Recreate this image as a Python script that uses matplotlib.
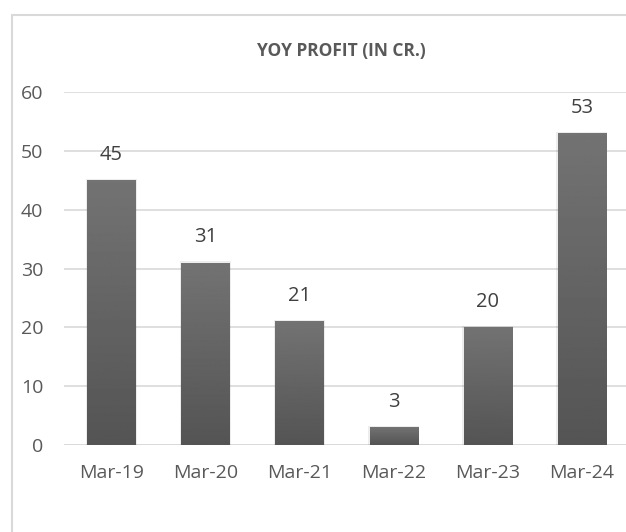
import matplotlib.pyplot as plt
import numpy as np
from matplotlib.patches import Rectangle

# data
periods = ["Mar-19", "Mar-20", "Mar-21", "Mar-22", "Mar-23", "Mar-24"]
profit = [45, 31, 21, 3, 20, 53]

W, H = 626, 532
fig = plt.figure(figsize=(W / 100, H / 100), dpi=100)
plt.rcParams['font.family'] = ['Open Sans', 'DejaVu Sans']

# chart border (right/bottom run off the picture)
fig.patches.append(Rectangle((12 / W, -0.05), 1.1, (H - 15) / H + 0.05,
                             transform=fig.transFigure, fill=False,
                             edgecolor="#d9d9d9", linewidth=1.5))

ax = fig.add_axes([64 / W, 87 / H, 565 / W, 353 / H])
x = np.arange(len(periods))
bars = ax.bar(x, profit, width=0.51, color="#5a5a5a", linewidth=0, zorder=3)

# vertical gradient on each bar, lighter on top
grad = np.linspace(0.45, 0.33, 256).reshape(-1, 1)
for b, v in zip(bars, profit):
    bx, bw = b.get_x(), b.get_width()
    # soft shadow
    ax.add_patch(Rectangle((bx - 0.015, 0), bw + 0.03, v + 0.2,
                           color="#000000", alpha=0.07, zorder=2, linewidth=0))
    im = ax.imshow(grad, extent=(bx, bx + bw, 0, v), aspect="auto",
                   cmap="gray", vmin=0, vmax=1, origin="upper", zorder=3)
    im.set_clip_path(b)
    ax.annotate(str(v), (b.get_x() + bw / 2, v), xytext=(0, 11),
                textcoords="offset points", ha="center", va="bottom",
                fontsize=14.5, color="#404040")

ax.set_xlim(-0.5, len(periods) - 0.5)
ax.set_ylim(0, 60)
ax.set_yticks(range(0, 61, 10))
ax.set_xticks(x)
ax.set_xticklabels(periods)
ax.grid(axis="y", color="#d9d9d9", linewidth=1.2, zorder=0)
ax.tick_params(length=0, labelsize=14, labelcolor="#595959")
ax.tick_params(axis="x", pad=14)
ax.tick_params(axis="y", pad=15)
for s in ax.spines.values():
    s.set_visible(False)
ax.axhline(0, color="#d9d9d9", linewidth=1.2, zorder=1)

fig.text(341 / W, 1 - 51 / H, "YOY PROFIT (IN CR.)", ha="center", va="center",
         fontsize=12.5, fontweight="bold", color="#595959")

plt.savefig("out.png", dpi=100)
